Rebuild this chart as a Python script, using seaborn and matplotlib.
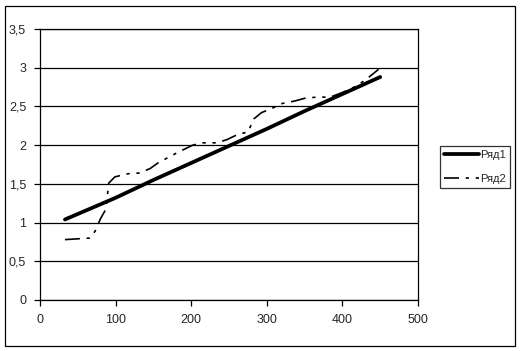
import numpy as np
import pandas as pd
import seaborn as sns
import matplotlib.pyplot as plt
from matplotlib.patches import Rectangle

# Ряд1 - almost straight line
x1 = [33, 100, 150, 200, 250, 300, 350, 400, 450]
y1 = [1.04, 1.32, 1.55, 1.77, 1.99, 2.21, 2.44, 2.66, 2.88]

# Ряд2 - dashed, step-like curve
x2 = [33, 66, 73, 80, 87, 91, 99, 116, 132, 146, 156, 181, 202, 216, 234,
      247, 262, 275, 283, 293, 308, 321, 337, 352, 368, 384, 400, 420, 434, 448]
y2 = [0.78, 0.80, 0.89, 1.05, 1.17, 1.51, 1.59, 1.63, 1.64, 1.70, 1.77, 1.90,
      2.00, 2.03, 2.03, 2.07, 2.14, 2.17, 2.34, 2.42, 2.48, 2.54, 2.57, 2.61,
      2.62, 2.62, 2.68, 2.77, 2.87, 2.98]

yticks = [0, 0.5, 1, 1.5, 2, 2.5, 3, 3.5]
xticks = [0, 100, 200, 300, 400, 500]

d1 = pd.DataFrame({'x': x1, 'y': y1})
d2 = pd.DataFrame({'x': x2, 'y': y2})

sns.set_style("white")
plt.rcParams['font.family'] = ['Liberation Sans', 'DejaVu Sans']

fig = plt.figure(figsize=(5.21, 3.51), dpi=100)
ax = fig.add_axes([40 / 521, 1 - 300 / 351, 378 / 521, 271 / 351])

sns.lineplot(data=d1, x='x', y='y', ax=ax, color='black', linewidth=2.7,
             sort=False, label='Ряд1')
sns.lineplot(data=d2, x='x', y='y', ax=ax, color='black', linewidth=1.2,
             sort=False, label='Ряд2', dashes=False)
ax.lines[1].set_dashes([9, 4, 2, 4, 2, 4])

ax.set_xlim(0, 500)
ax.set_ylim(0, 3.5)
ax.set_xticks(xticks)
ax.set_yticks(yticks)
ax.set_xticklabels([str(v) for v in xticks], fontsize=9)
ax.set_yticklabels([('%g' % v).replace('.', ',') for v in yticks], fontsize=9)
ax.set_xlabel('')
ax.set_ylabel('')
ax.yaxis.grid(True, color='black', linewidth=0.9)
ax.set_axisbelow(True)
for s in ax.spines.values():
    s.set_color('black')
    s.set_linewidth(0.9)
ax.tick_params(axis='both', direction='out', length=4, width=0.9,
               color='black', bottom=True, left=True, pad=6)

leg = ax.legend(loc='center left', bbox_to_anchor=(440 / 521, 1 - 167 / 351),
                bbox_transform=fig.transFigure, frameon=True, fancybox=False,
                fontsize=8, handlelength=3.2, handletextpad=0.1,
                borderpad=0.35, labelspacing=1.2, borderaxespad=0)
leg.get_frame().set_edgecolor('black')
leg.get_frame().set_linewidth(0.9)

# outer chart border
fig.patches.append(Rectangle((5 / 521, 5 / 351), 510 / 521, 340 / 351,
                             transform=fig.transFigure, fill=False,
                             edgecolor='black', linewidth=0.9))

fig.savefig('out.png', dpi=100)
